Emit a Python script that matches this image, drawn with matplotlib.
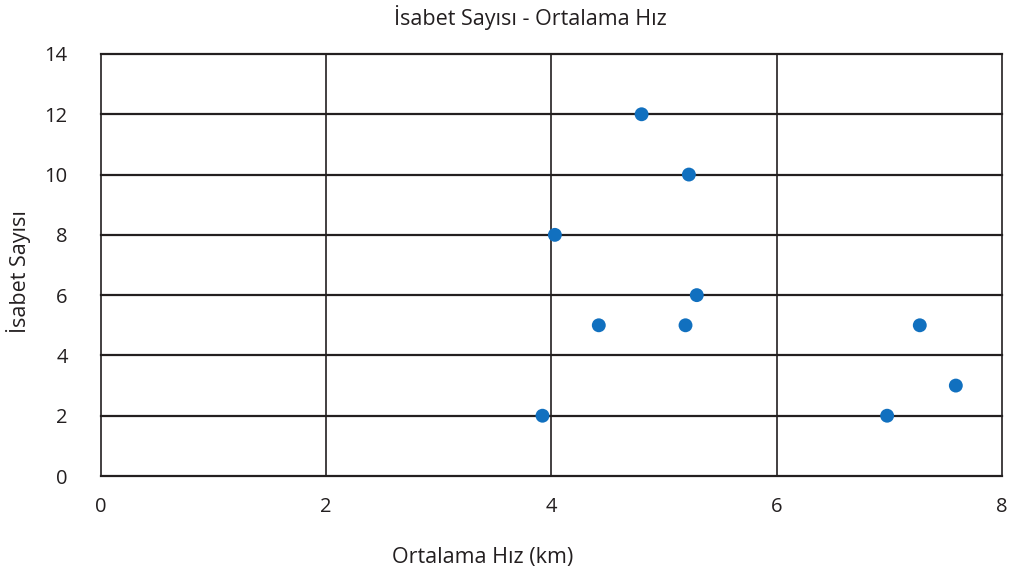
import matplotlib
matplotlib.use('Agg')
from matplotlib import pyplot as plt

# average speed (km) and hit count per player
ortalama_hiz = [4.80, 5.22, 4.03, 5.29, 4.42, 5.19, 3.92, 7.27, 7.59, 6.98]
isabet_sayisi = [12, 10, 8, 6, 5, 5, 2, 5, 3, 2]

x_ticks = [0, 2, 4, 6, 8]
y_ticks = [0, 2, 4, 6, 8, 10, 12, 14]

plt.rcParams['font.family'] = ['Open Sans', 'DejaVu Sans']

fig = plt.figure(figsize=(10.21, 5.81), dpi=100)
ax = fig.add_axes([0.0989, 0.1807, 0.8825, 0.7264])

line_col = '#231F20'
for y in y_ticks:
    ax.axhline(y, color=line_col, linewidth=1.6, zorder=1, clip_on=False)
for x in x_ticks:
    ax.axvline(x, color=line_col, linewidth=1.2, zorder=1, clip_on=False)

ax.scatter(ortalama_hiz, isabet_sayisi, s=100, color='#1170BF',
           edgecolors='none', zorder=3)

ax.set_xlim(0, 8)
ax.set_ylim(0, 14)
ax.set_xticks(x_ticks)
ax.set_yticks(y_ticks)
ax.tick_params(axis='both', length=0, labelsize=14.5, colors='#231F20')
ax.tick_params(axis='x', pad=15)
ax.tick_params(axis='y', pad=24)
for s in ax.spines.values():
    s.set_visible(False)

fig.text(0.519, 0.970, 'İsabet Sayısı - Ortalama Hız', ha='center', va='center',
         fontsize=15.5, color='#231F20')
fig.text(0.4730, 0.040, 'Ortalama Hız (km)', ha='center', va='center',
         fontsize=15.5, color='#231F20')
fig.text(0.018, 0.5327, 'İsabet Sayısı', ha='center', va='center',
         rotation=90, fontsize=15.5, color='#231F20')

fig.savefig('out.png', dpi=100, facecolor='white')
